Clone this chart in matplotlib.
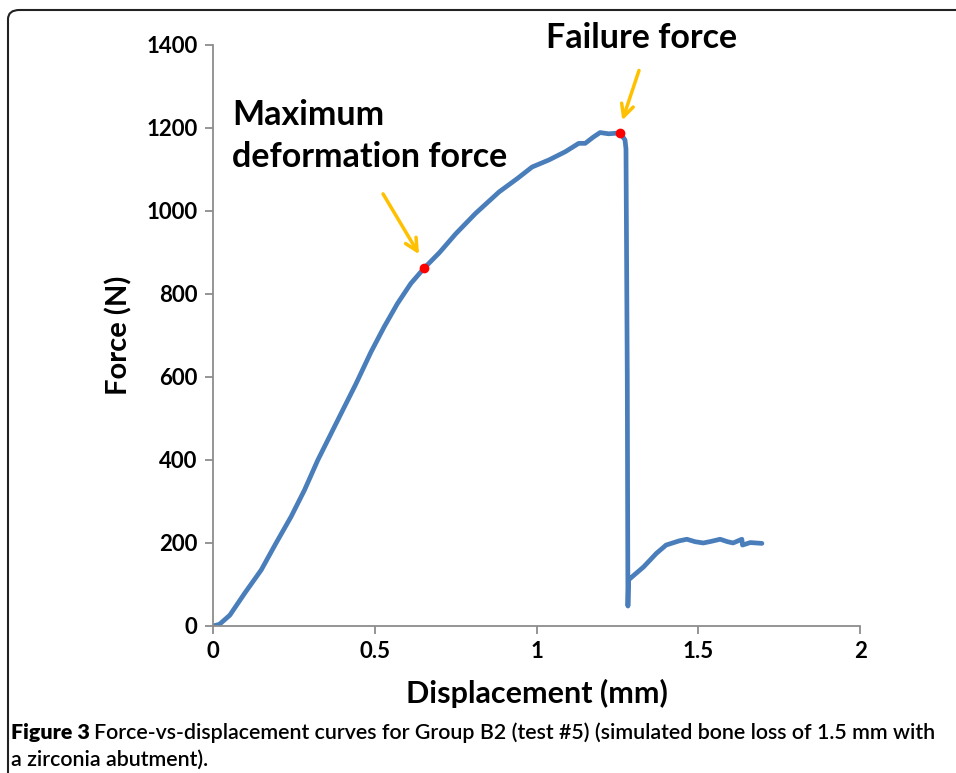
import matplotlib
matplotlib.use("Agg")
from matplotlib import pyplot as plt
from matplotlib.patches import FancyBboxPatch

# displacement (mm) / force (N)
disp = [0.0, 0.02, 0.052, 0.098, 0.149, 0.195, 0.241, 0.283, 0.324, 0.365, 0.406,
        0.442, 0.465, 0.488, 0.529, 0.570, 0.611, 0.652, 0.700, 0.750, 0.811, 0.884,
        0.940, 0.986, 1.038, 1.089, 1.130, 1.150, 1.175, 1.196, 1.222, 1.258, 1.273,
        1.276, 1.280, 1.282, 1.284, 1.300, 1.330, 1.370, 1.400, 1.440, 1.464, 1.490,
        1.515, 1.540, 1.567, 1.590, 1.607, 1.634, 1.636, 1.660, 1.696]
force = [0, 4, 26, 79, 135, 200, 263, 328, 400, 464, 528,
         584, 622, 660, 721, 777, 825, 862, 900, 945, 994, 1046,
         1078, 1106, 1123, 1143, 1163, 1163, 1178, 1189, 1186, 1188, 1171,
         1150, 600, 48, 111, 122, 142, 175, 195, 205, 209, 203,
         200, 204, 209, 203, 200, 209, 195, 201, 199]

max_def = (0.652, 862)
failure = (1.258, 1188)

x_ticks = [0, 0.5, 1, 1.5, 2]
x_labels = ['0', '0.5', '1', '1.5', '2']
y_ticks = [0, 200, 400, 600, 800, 1000, 1200, 1400]

caption_bold = 'Figure 3'
caption_rest = 'Force-vs-displacement curves for Group B2 (test #5) (simulated bone loss of 1.5 mm with'
caption_line2 = 'a zirconia abutment).'

plt.rcParams['font.family'] = ['Lato', 'DejaVu Sans']

fig = plt.figure(figsize=(9.56, 7.73), dpi=100)
ax = fig.add_axes([0.2228, 0.1902, 0.6771, 0.7516])

ax.plot(disp, force, color='#4a7ebb', lw=3.4, solid_capstyle='round', solid_joinstyle='round')
ax.plot(*max_def, 'o', color='#ff0000', ms=6, zorder=5)
ax.plot(*failure, 'o', color='#ff0000', ms=6, zorder=5)

ax.set_xlim(0, 2)
ax.set_ylim(0, 1400)
ax.set_xticks(x_ticks)
ax.set_xticklabels(x_labels)
ax.set_yticks(y_ticks)
for s in ['top', 'right']:
    ax.spines[s].set_visible(False)
for s in ['left', 'bottom']:
    ax.spines[s].set_color('#8c8c8c')
    ax.spines[s].set_linewidth(1.3)
ax.tick_params(direction='out', length=6, width=1.3, color='#8c8c8c',
               labelsize=16, pad=5)
for lab in ax.get_xticklabels() + ax.get_yticklabels():
    lab.set_fontweight('bold')

ax.set_xlabel('Displacement (mm)', fontsize=22, fontweight='bold', labelpad=12)
ax.set_ylabel('Force (N)', fontsize=21, fontweight='bold', labelpad=10)

orange = '#ffc000'
ax.annotate('', xy=(0.641, 890), xytext=(0.521, 1047),
            arrowprops=dict(arrowstyle='->', color=orange, lw=2.5, mutation_scale=22))
ax.annotate('', xy=(1.262, 1212), xytext=(1.319, 1345),
            arrowprops=dict(arrowstyle='->', color=orange, lw=2.5, mutation_scale=22),
            annotation_clip=False)
ax.text(0.058, 1180, 'Maximum\ndeformation force', fontsize=24.5, fontweight='bold',
        ha='left', va='center', linespacing=1.38)
ax.text(1.325, 1417, 'Failure force', fontsize=24.5, fontweight='bold',
        ha='center', va='center', clip_on=False)

fig.patches.append(FancyBboxPatch((8 / 956, -0.1), 1.1, 1.1 - 10 / 773,
                                  boxstyle='round,pad=0,rounding_size=0.012',
                                  transform=fig.transFigure, fill=False,
                                  ec='#222222', lw=1.5))

# caption: bold label followed by the text, fitted to the width of the box
cap_size = 14.5
t1 = fig.text(11 / 956, 1 - 733 / 773, caption_bold, fontsize=cap_size, fontweight='heavy',
              va='center', ha='left')
t2 = fig.text(0, 1 - 733 / 773, caption_rest, fontsize=cap_size,
              fontweight='semibold', va='center', ha='left')
fig.canvas.draw()
r = fig.canvas.get_renderer()
w1 = t1.get_window_extent(r).width
w2 = t2.get_window_extent(r).width
scale = (937 - 11) / (w1 + 5 + w2)
t1.set_fontsize(cap_size * scale)
t2.set_fontsize(cap_size * scale)
t2.set_x((11 + (w1 + 5) * scale) / 956)
fig.text(11 / 956, 1 - 760 / 773, caption_line2, fontsize=cap_size * scale,
         fontweight='semibold', va='center', ha='left')

fig.savefig('out.png', dpi=100)
